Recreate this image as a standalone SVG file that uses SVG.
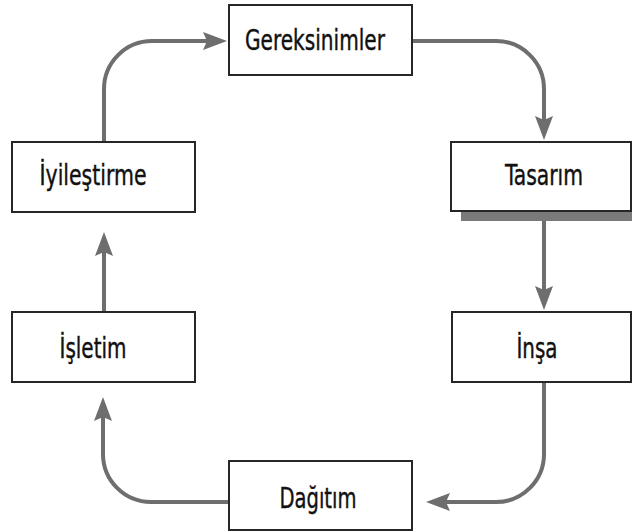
<svg xmlns="http://www.w3.org/2000/svg" width="632" height="532" viewBox="0 0 632 532">
  <defs>
    <marker id="arrow" viewBox="0 0 24 18" refX="8" refY="9" markerWidth="24" markerHeight="18" markerUnits="userSpaceOnUse" orient="auto">
      <path d="M0,0 L24,9 L0,18 L4,9 z" fill="#6e6e6e"/>
    </marker>
  </defs>
  <style>
    .box { fill: #ffffff; stroke: #262626; stroke-width: 2; }
    .lbl { font-family: 'Liberation Sans Narrow', 'DejaVu Sans Condensed', 'Liberation Sans', sans-serif; font-stretch: condensed; font-size: 29px; fill: #111111; stroke: #111111; stroke-width: 0.4; text-anchor: middle; }
    .conn { fill: none; stroke: #6e6e6e; stroke-width: 4; marker-end: url(#arrow); }
  </style>
  <rect width="632" height="532" fill="#ffffff"/>

  <g id="connectors">
    <path class="conn" d="M104,142 V89 A48,48 0 0 1 152,41 H211"/>
    <path class="conn" d="M412,41 H496 A48,48 0 0 1 544,89 V124"/>
    <path class="conn" d="M544,221 V294"/>
    <path class="conn" d="M544,382 V454 A48,48 0 0 1 496,502 H442"/>
    <path class="conn" d="M229,502 H151 A48,48 0 0 1 103,454 V413"/>
    <path class="conn" d="M104,312 V248"/>
  </g>

  <g id="gereksinimler">
    <rect class="box" x="229" y="5" width="183" height="70"/>
    <text class="lbl" x="315" y="50" textLength="140" lengthAdjust="spacingAndGlyphs">Gereksinimler</text>
  </g>

  <g id="tasarim">
    <rect x="461" y="211" width="171" height="10" fill="#7a7a7a"/>
    <rect class="box" x="451" y="142" width="180" height="69"/>
    <text class="lbl" x="544" y="185" textLength="78" lengthAdjust="spacingAndGlyphs">Tasarım</text>
  </g>

  <g id="insa">
    <rect class="box" x="452" y="312" width="179" height="70"/>
    <text class="lbl" x="537" y="358" textLength="41" lengthAdjust="spacingAndGlyphs">İnşa</text>
  </g>

  <g id="dagitim">
    <rect class="box" x="229" y="461" width="183" height="69"/>
    <text class="lbl" x="318" y="508" textLength="77" lengthAdjust="spacingAndGlyphs">Dağıtım</text>
  </g>

  <g id="isletim">
    <rect class="box" x="12" y="312" width="183" height="70"/>
    <text class="lbl" x="93" y="358" textLength="67" lengthAdjust="spacingAndGlyphs">İşletim</text>
  </g>

  <g id="iyilestirme">
    <rect class="box" x="12" y="142" width="183" height="70"/>
    <text class="lbl" x="93" y="185" textLength="107" lengthAdjust="spacingAndGlyphs">İyileştirme</text>
  </g>
</svg>
